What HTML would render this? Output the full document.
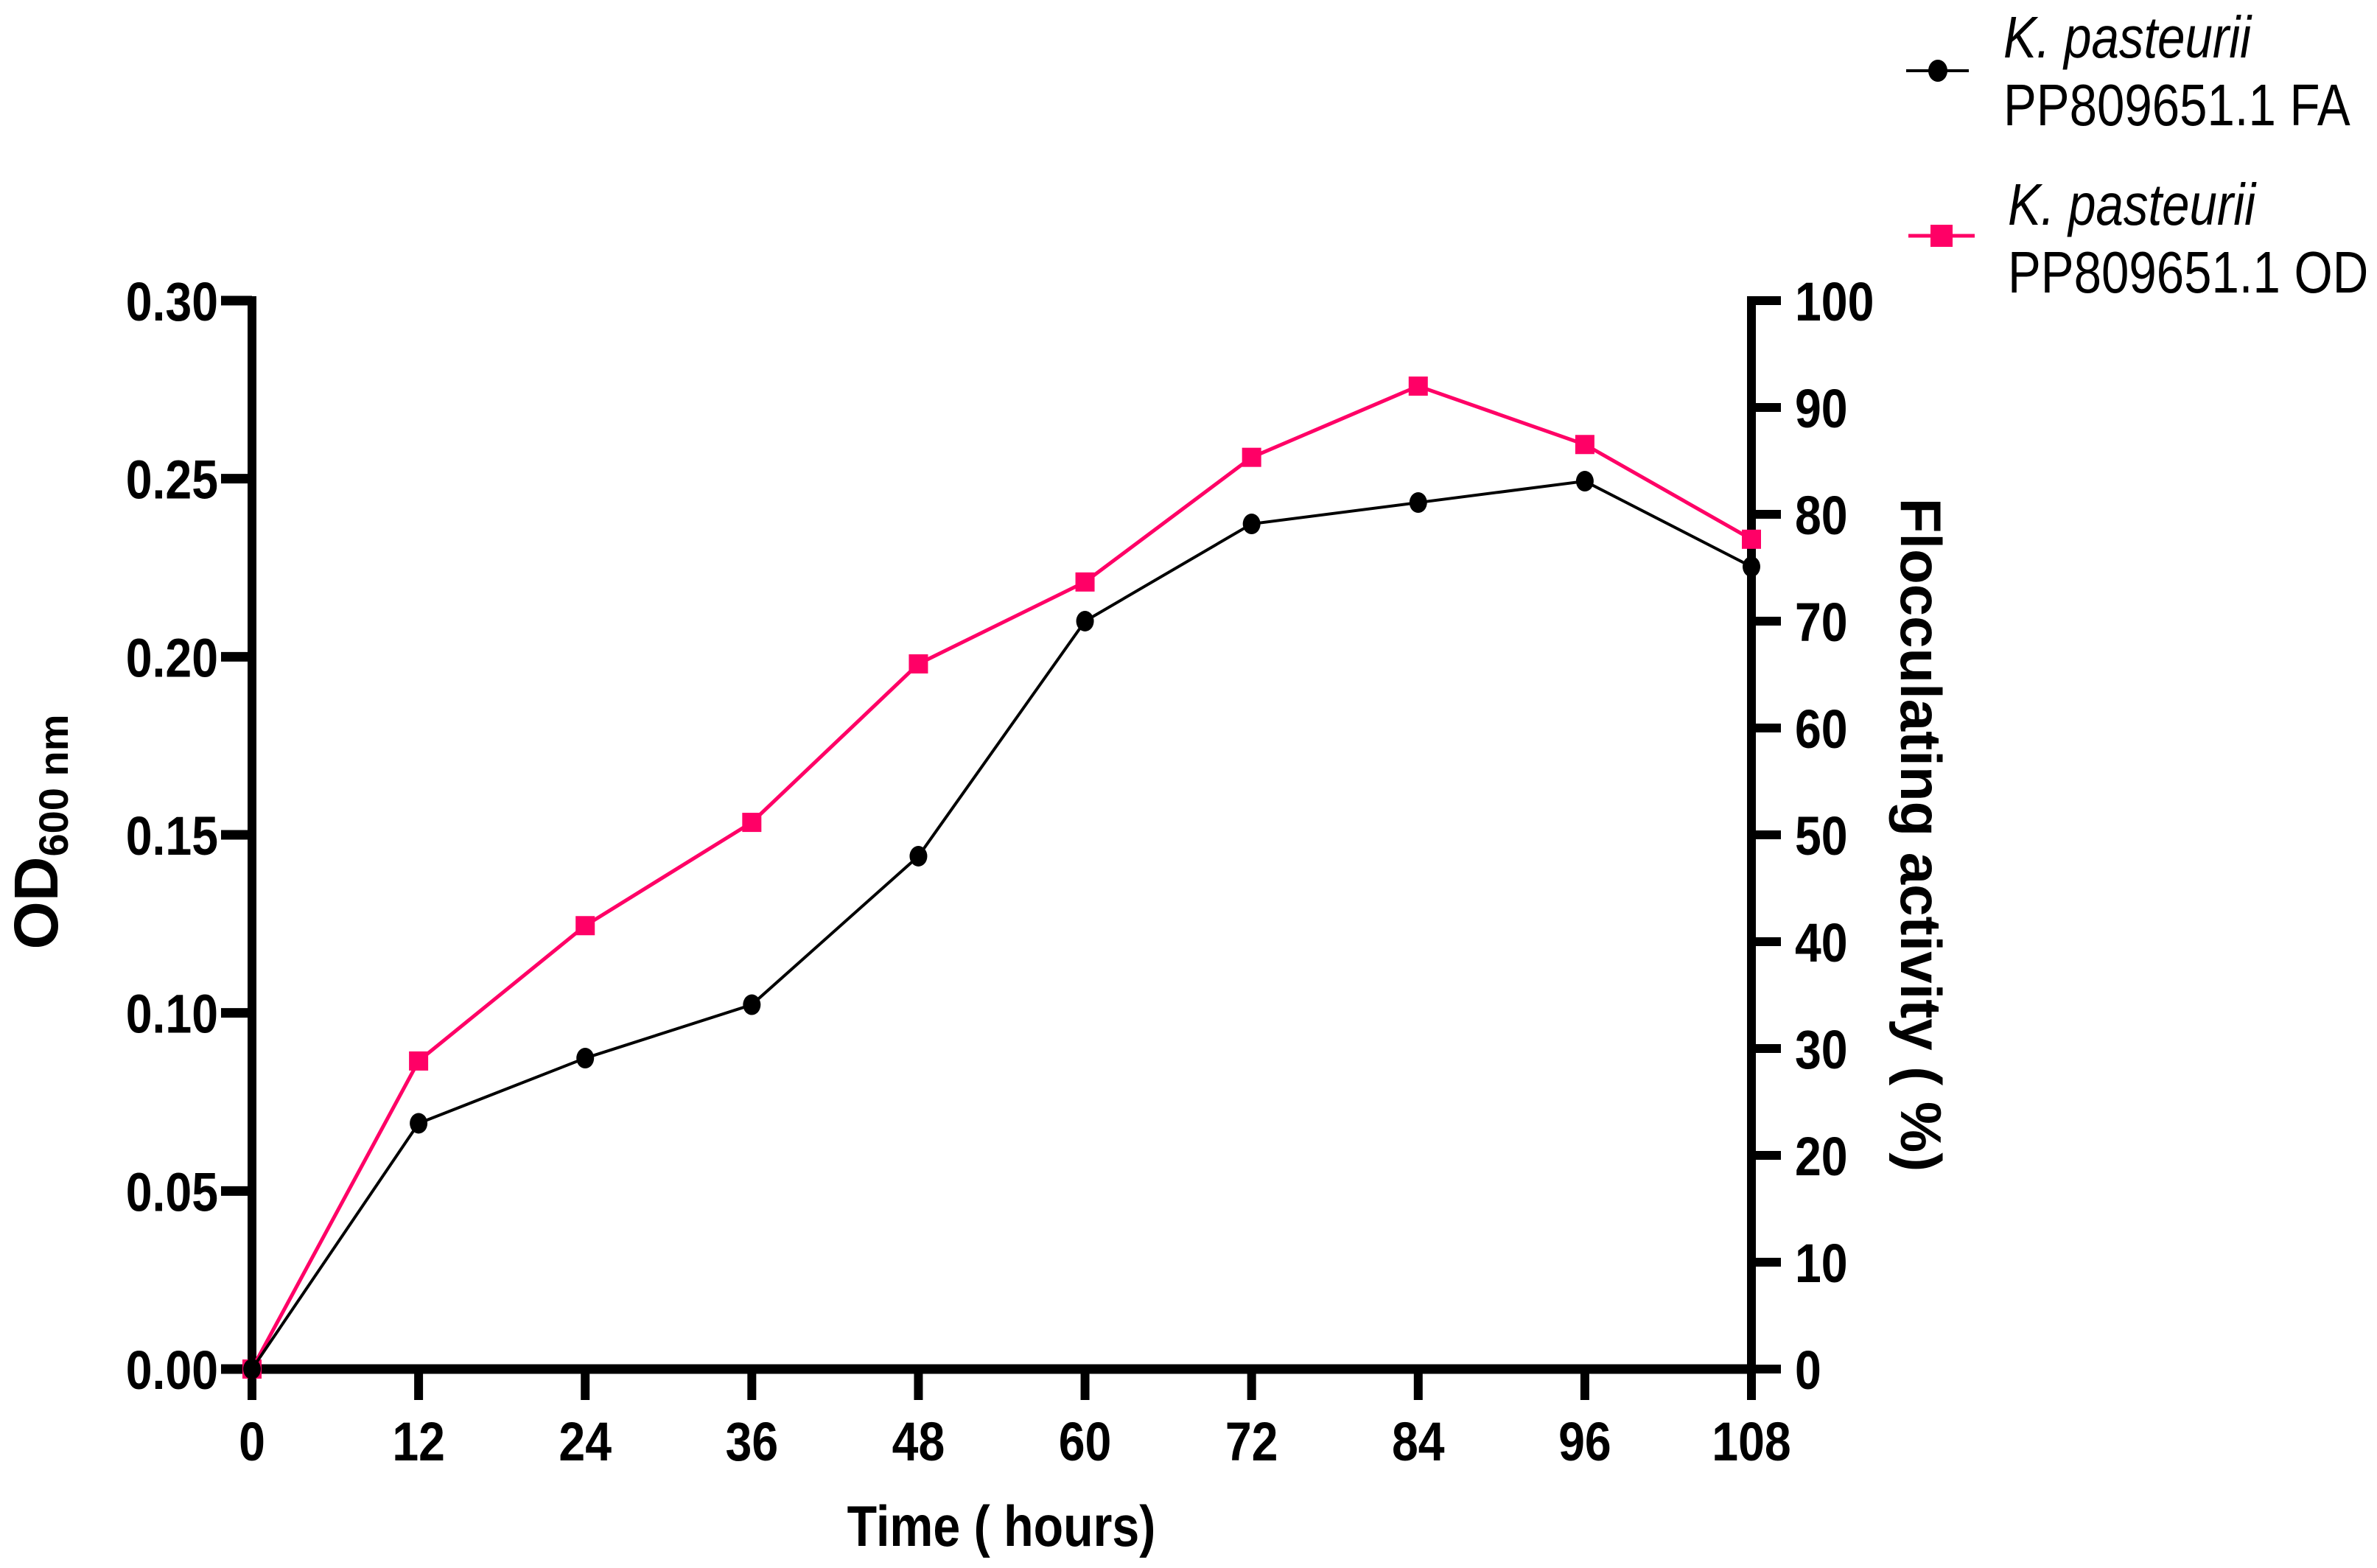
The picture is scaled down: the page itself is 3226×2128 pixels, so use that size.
<!DOCTYPE html>
<html><head><meta charset="utf-8"><style>
html,body{margin:0;padding:0;background:#fff;}
svg{display:block;}
text{font-family:"Liberation Sans Narrow","Liberation Sans",sans-serif;}
</style></head><body>
<svg id="chart" width="3226" height="2128" viewBox="0 0 3226 2128" xmlns="http://www.w3.org/2000/svg">
<g id="axes"></g>
<g id="series"></g>
<g id="legend">
  <line x1="2587" y1="96" x2="2672" y2="96" stroke="#000" stroke-width="4"/>
  <ellipse cx="2630" cy="96" rx="13" ry="15" fill="#000"/>
  <text transform="translate(2719,78) scale(0.84,1)" font-size="80" font-style="italic">K. pasteurii</text>
  <text transform="translate(2719,170) scale(0.84,1)" font-size="80">PP809651.1 FA</text>
  <line x1="2590" y1="320" x2="2680" y2="320" stroke="#ff0066" stroke-width="5"/>
  <rect x="2620" y="305" width="30" height="30" fill="#ff0066"/>
  <text transform="translate(2725,305) scale(0.84,1)" font-size="80" font-style="italic">K. pasteurii</text>
  <text transform="translate(2725,397) scale(0.84,1)" font-size="80">PP809651.1 OD</text>
</g>
</svg>
<script>
const hours = [0,12,24,36,48,60,72,84,96,108];
const faValues = [0,23,29.1,34.1,48,70,79.1,81.1,83.1,75.1];
const odValues = [0,0.0865,0.1245,0.1535,0.198,0.221,0.256,0.276,0.2596,0.233];
const xTickLabels = ["0","12","24","36","48","60","72","84","96","108"];
const leftTickLabels = ["0.00","0.05","0.10","0.15","0.20","0.25","0.30"];
const rightTickLabels = ["0","10","20","30","40","50","60","70","80","90","100"];

const NS="http://www.w3.org/2000/svg";
const X0=342, X1=2377, Y0=1858, Y1=408;
const xS=v=>X0+(v-0)/(108-0)*(X1-X0);
const yL=v=>Y0-(v/0.30)*(Y0-Y1);
const yR=v=>Y0-(v/100)*(Y0-Y1);
function mk(tag,attrs,parent,txt){const e=document.createElementNS(NS,tag);for(const k in attrs)e.setAttribute(k,attrs[k]);if(txt!==undefined)e.textContent=txt;parent.appendChild(e);return e;}
const axes=document.getElementById('axes'), ser=document.getElementById('series');
const SX=0.87;

let e;
e=mk('line',{x1:X0,y1:Y1-6,x2:X0,y2:Y0+6,stroke:'#000','stroke-width':12},axes);


e=mk('line',{x1:X1,y1:Y1-6,x2:X1,y2:Y0+6,stroke:'#000','stroke-width':12},axes);


e=mk('line',{x1:X0-6,y1:Y0,x2:X1+6,y2:Y0,stroke:'#000','stroke-width':13},axes);



hours.forEach((h,i)=>{
  const x=xS(h);
  const t=mk('line',{x1:x,y1:Y0,x2:x,y2:Y0+42,stroke:'#000','stroke-width':12},axes);
  
  
  const l=mk('text',{transform:`translate(${x},1982) scale(${SX},1)`,'font-size':74,'font-weight':'bold','text-anchor':'middle'},axes,xTickLabels[i]);
  
  
});
leftTickLabels.forEach((s,i)=>{
  const y=yL(parseFloat(s));
  const t=mk('line',{x1:X0-42,y1:y,x2:X0,y2:y,stroke:'#000','stroke-width':13},axes);
  
  
  const l=mk('text',{transform:`translate(296,${y+27}) scale(${SX},1)`,'font-size':74,'font-weight':'bold','text-anchor':'end'},axes,s);
  
  
});
rightTickLabels.forEach((s,i)=>{
  const y=yR(parseFloat(s));
  const t=mk('line',{x1:X1,y1:y,x2:X1+40,y2:y,stroke:'#000','stroke-width':12},axes);
  
  
  const l=mk('text',{transform:`translate(2436,${y+27}) scale(${SX},1)`,'font-size':74,'font-weight':'bold','text-anchor':'start'},axes,s);
  
  
});
e=mk('text',{transform:`translate(1359,2098) scale(0.85,1)`,'font-size':78,'font-weight':'bold','text-anchor':'middle'},axes,'Time ( hours)');


e=mk('text',{x:0,y:0,'font-size':84,'font-weight':'bold','text-anchor':'middle',transform:`translate(78,1129) rotate(-90)`},axes);


mk('tspan',{},e,'OD');
mk('tspan',{'font-size':56,dy:14},e,'600 nm');
e=mk('text',{x:0,y:0,'font-size':78,'font-weight':'bold','text-anchor':'middle',transform:`translate(2580,1133) rotate(90)`},axes,'Flocculating activity ( %)');



// OD series (pink, left axis)
let pts=hours.map((h,i)=>xS(h)+','+yL(odValues[i])).join(' ');
e=mk('polyline',{points:pts,fill:'none',stroke:'#ff0066','stroke-width':5},ser);


hours.forEach((h,i)=>{
  const m=mk('rect',{x:xS(h)-13,y:yL(odValues[i])-13,width:26,height:26,fill:'#ff0066'},ser);
  
  
});
// FA series (black, right axis)
pts=hours.map((h,i)=>xS(h)+','+yR(faValues[i])).join(' ');
e=mk('polyline',{points:pts,fill:'none',stroke:'#000','stroke-width':4},ser);


hours.forEach((h,i)=>{
  const m=mk('ellipse',{cx:xS(h),cy:yR(faValues[i]),rx:12,ry:14,fill:'#000'},ser);
  
  
});
</script>
</body></html>
